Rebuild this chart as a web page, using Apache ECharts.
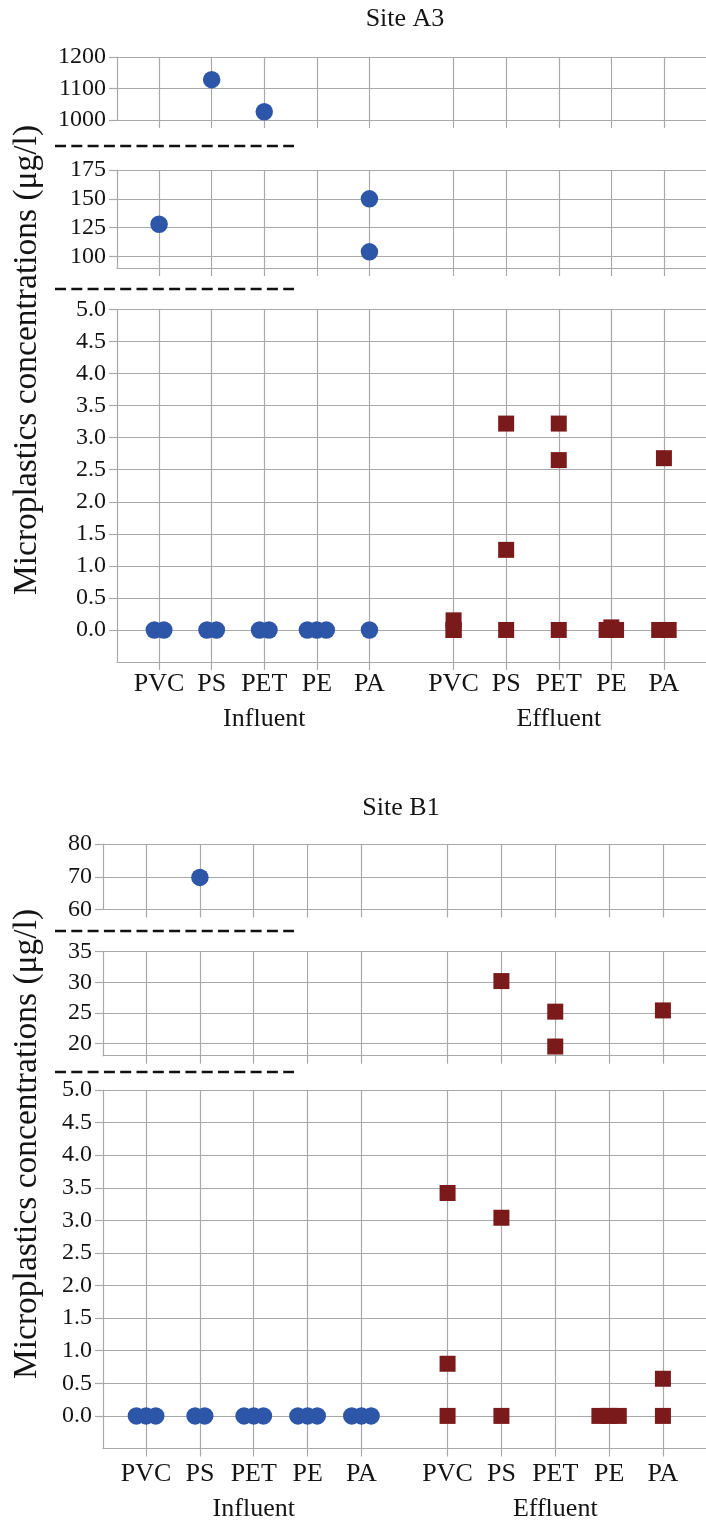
<!DOCTYPE html>
<html>
<head>
<meta charset="utf-8">
<script src="https://cdn.jsdelivr.net/npm/echarts@6/dist/echarts.min.js"></script>
<style>html,body{margin:0;padding:0;background:#fff}#c{width:706px;height:1524px}</style>
</head>
<body>
<div id="c"></div>
<script>
// ---------------- data ----------------
const categories = ['PVC', 'PS', 'PET', 'PE', 'PA'];
const groupNames = ['Influent', 'Effluent'];
const siteNames = ['Site A3', 'Site B1'];
const yAxisTitle = 'Microplastics concentrations (\u03bcg/l)';

// each point: [category index, concentration (µg/l), jitter slot]
const a3Influent = [
  [0, 128, 0], [0, 0, -1], [0, 0, 1],
  [1, 1128, 0], [1, 0, -1], [1, 0, 1],
  [2, 1026, 0], [2, 0, -1], [2, 0, 1],
  [3, 0, -2], [3, 0, 0], [3, 0, 2],
  [4, 150, 0], [4, 104, 0], [4, 0, 0]
];
const a3Effluent = [
  [0, 0.15, 0], [0, 0, 0], [0, 0, 0],
  [1, 3.22, 0], [1, 1.25, 0], [1, 0, 0],
  [2, 3.22, 0], [2, 2.65, 0], [2, 0, 0],
  [3, 0.04, 0], [3, 0, -1], [3, 0, 1],
  [4, 2.68, 0], [4, 0, -1], [4, 0, 1]
];
const b1Influent = [
  [0, 0, -2], [0, 0, 0], [0, 0, 2],
  [1, 69.8, 0], [1, 0, -1], [1, 0, 1],
  [2, 0, -2], [2, 0, 0], [2, 0, 2],
  [3, 0, -2], [3, 0, 0], [3, 0, 2],
  [4, 0, -2], [4, 0, 0], [4, 0, 2]
];
const b1Effluent = [
  [0, 3.42, 0], [0, 0.8, 0], [0, 0, 0],
  [1, 30.2, 0], [1, 3.04, 0], [1, 0, 0],
  [2, 25.2, 0], [2, 19.5, 0],
  [3, 0, -2], [3, 0, 0], [3, 0, 2],
  [4, 25.4, 0], [4, 0.57, 0], [4, 0, 0]
];

// axis ranges and tick labels of the three broken-axis segments (top, middle, low)
const a3Ranges = [[1000, 1200], [90, 175], [-0.5, 5]];
const b1Ranges = [[60, 80], [18, 35], [-0.5, 5]];
const a3Ticks = [[1000, 1100, 1200], [100, 125, 150, 175], [0, 0.5, 1, 1.5, 2, 2.5, 3, 3.5, 4, 4.5, 5]];
const b1Ticks = [[60, 70, 80], [20, 25, 30, 35], [0, 0.5, 1, 1.5, 2, 2.5, 3, 3.5, 4, 4.5, 5]];

// ---------------- layout ----------------
const FONT = '"Liberation Serif", "Times New Roman", serif';
const GRID_COLOR = '#a9a9a9';
const BLUE = '#2d56a8';
const RED = '#7b1a1a';
const X_MIN = 0.2, X_MAX = 11.4;
const GROUP_START = [1, 6.6];
const JITTER = 0.09;
const catPos = [];
GROUP_START.forEach(s => categories.forEach((c, i) => catPos.push(s + i)));
const groupCenters = GROUP_START.map(s => s + 2);

const panels = [
  { site: siteNames[0], data: [a3Influent, a3Effluent], ranges: a3Ranges, ticks: a3Ticks,
    left: 117, width: 590, grids: [[57, 63], [170, 98], [309.5, 352.5]], labelMargin: 9,
    titleX: 405, titleY: 19, nameY: 360, dashY: [146, 289] },
  { site: siteNames[1], data: [b1Influent, b1Effluent], ranges: b1Ranges, ticks: b1Ticks,
    left: 103, width: 613, grids: [[844, 65.5], [951.7, 104], [1090, 358.5]], labelMargin: 13,
    titleX: 401, titleY: 808, nameY: 1144, dashY: [931, 1072] }
];

const grid = [], xAxis = [], yAxis = [], series = [], graphic = [];
const fmtCat = v => {
  const i = catPos.findIndex(p => Math.abs(p - v) < 1e-6);
  return i >= 0 ? categories[i % categories.length] : '';
};
const fmtGroup = v => {
  const i = groupCenters.findIndex(p => Math.abs(p - v) < 1e-6);
  return i >= 0 ? groupNames[i] : '';
};

panels.forEach((p, pi) => {
  p.grids.forEach((g, si) => {
    const gi = grid.length;
    const isLow = si === 2;
    grid.push({ left: p.left, width: p.width, top: g[0], height: g[1], show: false });
    xAxis.push({
      type: 'value', gridIndex: gi, min: X_MIN, max: X_MAX, position: 'bottom',
      axisLine: { show: true, onZero: false, lineStyle: { color: GRID_COLOR, width: 1.2 } },
      axisTick: { show: true, length: 8, customValues: catPos, lineStyle: { color: GRID_COLOR, width: 1.2 } },
      axisLabel: { show: isLow, customValues: catPos, formatter: fmtCat, fontFamily: FONT, fontSize: 26,
        color: '#141414', margin: p.labelMargin },
      splitLine: { show: true, lineStyle: { color: GRID_COLOR, width: 1.2 } }
    });
    const [ymin, ymax] = p.ranges[si];
    yAxis.push({
      type: 'value', gridIndex: gi, min: ymin, max: ymax,
      axisLine: { show: true, onZero: false, lineStyle: { color: GRID_COLOR, width: 1.2 } },
      axisTick: { show: true, length: 8, customValues: p.ticks[si], lineStyle: { color: GRID_COLOR, width: 1.2 } },
      axisLabel: { customValues: p.ticks[si], formatter: v => isLow ? v.toFixed(1) : String(v),
        fontFamily: FONT, fontSize: 24, color: '#141414', margin: 11 },
      splitLine: { show: true, lineStyle: { color: GRID_COLOR, width: 1.2 } }
    });
    if (isLow) {
      // group labels (Influent / Effluent)
      xAxis.push({
        type: 'value', gridIndex: gi, min: X_MIN, max: X_MAX, position: 'bottom', offset: 35,
        axisLine: { show: false }, axisTick: { show: false }, splitLine: { show: false },
        axisLabel: { customValues: groupCenters, formatter: fmtGroup, fontFamily: FONT, fontSize: 26,
          color: '#141414', margin: p.labelMargin }
      });
    }
    p.data.forEach((pts, gIdx) => {
      const data = pts.filter(d => d[1] >= ymin && d[1] <= ymax)
        .map(d => [catPos[gIdx * categories.length + d[0]] + d[2] * JITTER, d[1]]);
      series.push({
        type: 'scatter', xAxisIndex: xAxis.length - (isLow ? 2 : 1), yAxisIndex: gi,
        symbol: gIdx === 0 ? 'circle' : 'rect', symbolSize: gIdx === 0 ? 17.5 : 16,
        itemStyle: { color: gIdx === 0 ? BLUE : RED, opacity: 1 },
        data, silent: true, animation: false, clip: false
      });
    });
  });
  // title
  graphic.push({ type: 'text', x: p.titleX, y: p.titleY,
    style: { text: p.site, font: '26px ' + FONT, fill: '#141414', align: 'center', verticalAlign: 'middle' } });
  // y-axis title
  graphic.push({ type: 'text', x: 27, y: p.nameY, rotation: Math.PI / 2,
    style: { text: yAxisTitle, font: '33.5px ' + FONT, fill: '#141414', align: 'center', verticalAlign: 'middle' } });
  // axis-break dashes
  p.dashY.forEach(y => graphic.push({ type: 'line', shape: { x1: 55, y1: y, x2: 294, y2: y },
    style: { stroke: '#111', lineWidth: 2.6, lineDash: [11, 5.3] } }));
});

const chart = echarts.init(document.getElementById('c'), null, { renderer: 'canvas' });
chart.setOption({ animation: false, backgroundColor: '#fff', grid, xAxis, yAxis, series, graphic });
</script>
</body>
</html>
